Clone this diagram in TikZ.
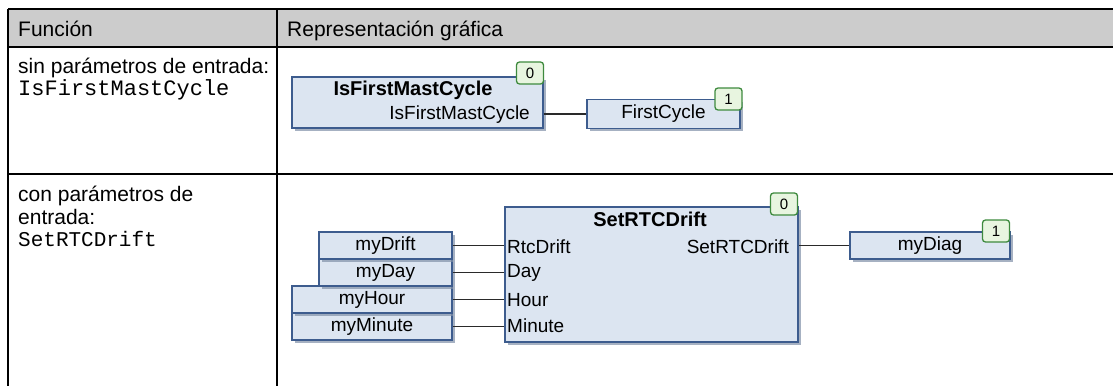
\documentclass[tikz,border=0pt]{standalone}
\usepackage{fontspec}
\setmainfont{Liberation Sans}
\setmonofont{Liberation Mono}
\usetikzlibrary{shadows}
\definecolor{hdrgray}{HTML}{CCCCCC}
\definecolor{boxfill}{HTML}{DCE5F1}
\definecolor{boxline}{HTML}{3D5C8E}
\definecolor{shadowc}{HTML}{8090A8}
\definecolor{badgefill}{HTML}{E8F5E0}
\definecolor{badgeline}{HTML}{3E8A3E}
\definecolor{wirec}{HTML}{2A2A2A}
\tikzset{
  tbl/.style={line width=1.4pt, black},
  celltext/.style={anchor=base west, inner sep=0pt, font=\fontsize{21}{24}\selectfont},
  monotext/.style={anchor=base west, inner sep=0pt, font=\ttfamily\fontsize{22}{24}\selectfont},
  fbox/.style={draw=boxline, line width=1.4pt, fill=boxfill, inner sep=0pt,
    drop shadow={shadow xshift=2.5pt, shadow yshift=-2.5pt, fill=shadowc, opacity=0.7}},
  badge/.style={draw=badgeline, line width=1.3pt, fill=badgefill, rounded corners=3pt,
    minimum width=27pt, minimum height=22pt, inner sep=0pt, font=\fontsize{15}{16}\selectfont},
  dtext/.style={inner sep=0pt, font=\fontsize{19}{20}\selectfont},
  dtitle/.style={inner sep=0pt, font=\bfseries\fontsize{20}{22}\selectfont},
  wire/.style={line width=1.7pt, wirec}
}
\begin{document}
\begin{tikzpicture}[x=1pt,y=-1pt]
\useasboundingbox (0,0) rectangle (1113,386);
% table
\fill[hdrgray] (8,9) rectangle (1113,47);
\draw[tbl] (8,9) -- (1113,9);
\draw[tbl] (8,47) -- (1113,47);
\draw[tbl] (8,174) -- (1113,174);
\draw[tbl] (8,9) -- (8,386);
\draw[tbl] (277,9) -- (277,386);
\node[celltext] (h1) at (18,36) {Función};
\node[celltext] (h2) at (287,36) {Representación gráfica};
\node[celltext] (r1a) at (18,73) {sin parámetros de entrada:};
\node[monotext] (r1b) at (18,95) {IsFirstMastCycle};
\node[celltext] (r2a) at (18,201) {con parámetros de};
\node[celltext] (r2b) at (18,224) {entrada:};
\node[monotext, font=\ttfamily\fontsize{21}{24}\selectfont] (r2c) at (18,246) {SetRTCDrift};

% diagram 1
\node[fbox, minimum width=251pt, minimum height=51pt] (fb1) at (417.5,102.5) {};
\node[dtitle] (fb1t) at (413,90) {IsFirstMastCycle};
\node[dtext, anchor=east] (fb1o) at (530,115) {IsFirstMastCycle};
\node[fbox, minimum width=153pt, minimum height=29pt, dtext] (fc) at (663.5,114) {FirstCycle};
\draw[wire] (fb1.east |- fc.west) -- (fc.west);
\node[badge] (b0a) at (530,73) {0};
\node[badge] (b1a) at (728.5,99) {1};

% diagram 2
\node[fbox, minimum width=293pt, minimum height=135pt] (fb2) at (651.5,274.5) {};
\node[dtitle] (fb2t) at (650,219) {SetRTCDrift};
\node[dtext, anchor=west] (in1) at (507,247) {RtcDrift};
\node[dtext, anchor=west] (in2) at (507,273) {Day};
\node[dtext, anchor=west] (in3) at (507,300) {Hour};
\node[dtext, anchor=west] (in4) at (507,326) {Minute};
\node[dtext, anchor=east] (out2) at (789,247) {SetRTCDrift};
\node[fbox, minimum width=160pt, minimum height=27pt, dtext] (vm) at (372,326.5) {myMinute};
\node[fbox, minimum width=160pt, minimum height=27pt, dtext] (vh) at (372,299.5) {myHour};
\node[fbox, minimum width=133pt, minimum height=27pt, dtext] (vd) at (385.5,272.5) {myDay};
\node[fbox, minimum width=133pt, minimum height=27pt, dtext] (vr) at (385.5,245.5) {myDrift};
\draw[wire] (vr.east) -- (vr.east -| fb2.west);
\draw[wire] (vd.east) -- (vd.east -| fb2.west);
\draw[wire] (vh.east) -- (vh.east -| fb2.west);
\draw[wire] (vm.east) -- (vm.east -| fb2.west);
\node[fbox, minimum width=160pt, minimum height=27pt, dtext] (vo) at (930,245.5) {myDiag};
\draw[wire] (fb2.east |- vo.west) -- (vo.west);
\node[badge] (b0b) at (784,204) {0};
\node[badge] (b1b) at (996,231) {1};
\end{tikzpicture}
\end{document}
